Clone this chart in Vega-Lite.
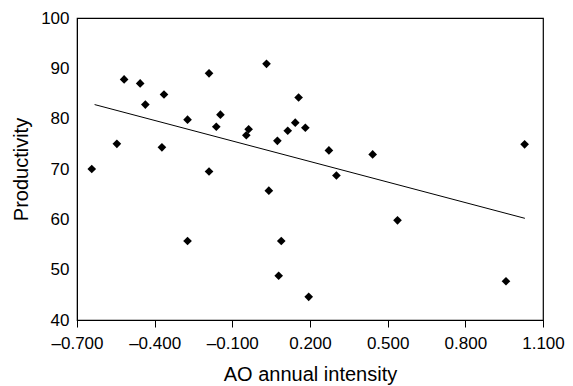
{
  "$schema": "https://vega.github.io/schema/vega-lite/v6.json",
  "width": 466,
  "height": 302,
  "autosize": "none",
  "padding": {"left": 77, "top": 18, "right": 30, "bottom": 66},
  "background": "white",
  "config": {
    "font": "Liberation Sans",
    "view": {"stroke": "black", "strokeWidth": 1.2},
    "axis": {"grid": false, "domainColor": "black", "tickColor": "black", "labelColor": "black", "titleColor": "black", "labelFontSize": 17, "titleFontSize": 20, "titleFontWeight": "normal", "labelFont": "Liberation Sans", "titleFont": "Liberation Sans", "labelOverlap": false, "labelFlush": false}
  },
  "datasets": {
    "points": [
      {"ao": -0.643, "prod": 70.0},
      {"ao": -0.546, "prod": 75.0},
      {"ao": -0.518, "prod": 87.8},
      {"ao": -0.456, "prod": 87.0},
      {"ao": -0.436, "prod": 82.8},
      {"ao": -0.364, "prod": 84.8},
      {"ao": -0.372, "prod": 74.3},
      {"ao": -0.273, "prod": 79.8},
      {"ao": -0.190, "prod": 89.0},
      {"ao": -0.190, "prod": 69.5},
      {"ao": -0.146, "prod": 80.8},
      {"ao": -0.162, "prod": 78.4},
      {"ao": -0.037, "prod": 77.9},
      {"ao": -0.046, "prod": 76.7},
      {"ao": 0.032, "prod": 90.9},
      {"ao": 0.074, "prod": 75.6},
      {"ao": 0.114, "prod": 77.6},
      {"ao": 0.143, "prod": 79.2},
      {"ao": 0.156, "prod": 84.2},
      {"ao": 0.182, "prod": 78.2},
      {"ao": 0.041, "prod": 65.7},
      {"ao": 0.273, "prod": 73.7},
      {"ao": 0.442, "prod": 72.9},
      {"ao": 0.302, "prod": 68.7},
      {"ao": 1.029, "prod": 74.9},
      {"ao": -0.273, "prod": 55.7},
      {"ao": 0.089, "prod": 55.7},
      {"ao": 0.079, "prod": 48.8},
      {"ao": 0.195, "prod": 44.6},
      {"ao": 0.538, "prod": 59.8},
      {"ao": 0.957, "prod": 47.7}
    ],
    "trend": [
      {"ao": -0.632, "prod": 82.8},
      {"ao": 1.030, "prod": 60.2}
    ]
  },
  "layer": [
    {
      "data": {"name": "points"},
      "mark": {"type": "point", "shape": "diamond", "filled": true, "color": "black", "opacity": 1, "size": 75},
      "encoding": {
        "x": {"field": "ao", "type": "quantitative", "scale": {"domain": [-0.7, 1.1], "nice": false, "zero": false},
          "axis": {"values": [-0.7, -0.4, -0.1, 0.2, 0.5, 0.8, 1.1], "title": "AO annual intensity", "tickSize": 7, "labelPadding": 8.5, "titlePadding": 13,
            "labelExpr": "(datum.value < -0.0001 ? '–' : '') + format(abs(datum.value), '.3f')"}},
        "y": {"field": "prod", "type": "quantitative", "scale": {"domain": [40, 100], "nice": false, "zero": false},
          "axis": {"values": [40, 50, 60, 70, 80, 90, 100], "title": "Productivity", "ticks": false, "labelPadding": 8, "titlePadding": 9}}
      }
    },
    {
      "data": {"name": "trend"},
      "mark": {"type": "line", "color": "black", "strokeWidth": 1},
      "encoding": {
        "x": {"field": "ao", "type": "quantitative"},
        "y": {"field": "prod", "type": "quantitative"}
      }
    }
  ]
}
